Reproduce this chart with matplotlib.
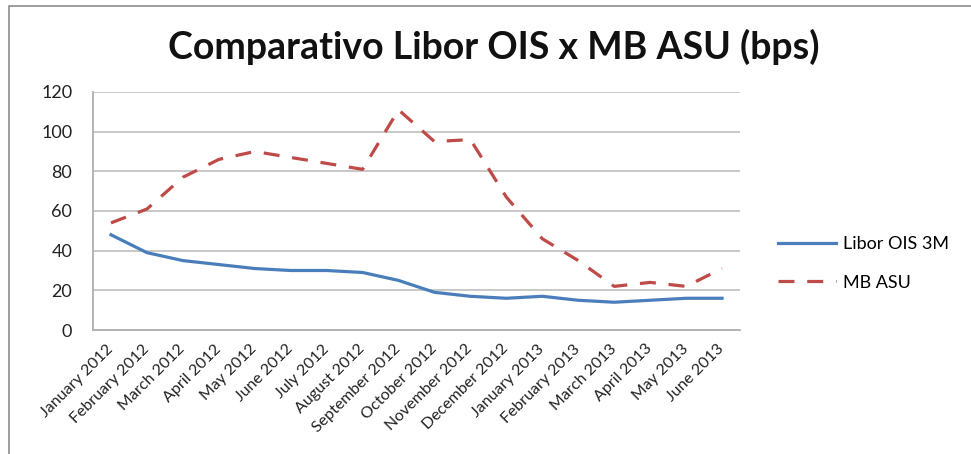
import matplotlib
matplotlib.use("Agg")
import matplotlib.pyplot as plt
from matplotlib.patches import Rectangle

# Datos del gráfico
months = ["January 2012", "February 2012", "March 2012", "April 2012", "May 2012",
          "June 2012", "July 2012", "August 2012", "September 2012", "October 2012",
          "November 2012", "December 2012", "January 2013", "February 2013",
          "March 2013", "April 2013", "May 2013", "June 2013"]
libor_ois = [48, 39, 35, 33, 31, 30, 30, 29, 25, 19, 17, 16, 17, 15, 14, 15, 16, 16]
mb_asu = [54, 61, 77, 86, 90, 87, 84, 81, 111, 95, 96, 67, 46, 35, 22, 24, 22, 31]
y_ticks = [0, 20, 40, 60, 80, 100, 120]

plt.rcParams["font.family"] = ["Lato", "DejaVu Sans"]

fig = plt.figure(figsize=(9.71, 4.54), dpi=100)
ax = fig.add_axes([0.0958, 0.2731, 0.6663, 0.5243])

# marco exterior del gráfico
fig.patches.append(Rectangle((9 / 971, -0.1), 1.2, (454 - 6) / 454 + 0.1,
                             transform=fig.transFigure, fill=False,
                             edgecolor="#8c8c8c", linewidth=1.2))

x = range(len(months))
ax.plot(x, libor_ois, color="#4a7ebb", linewidth=2.3, label="Libor OIS 3M")
ax.plot(x, mb_asu, color="#be4b48", linewidth=2.3, linestyle=(0, (5, 4)),
        label="MB ASU")

ax.set_xlim(-0.5, len(months) - 0.5)
ax.set_ylim(0, 120)
ax.set_yticks(y_ticks)
ax.set_xticks(list(x))
ax.set_xticklabels(months, rotation=45, ha="right", va="center",
                   rotation_mode="anchor", fontsize=11.5, color="#222222")
ax.tick_params(axis="x", length=0, pad=12)
ax.tick_params(axis="y", length=0, pad=15, labelsize=13, labelcolor="#222222")

ax.grid(axis="y", color="#c4c4c4", linewidth=1.3)
ax.set_axisbelow(True)
for side in ["top", "right"]:
    ax.spines[side].set_visible(False)
for side in ["left", "bottom"]:
    ax.spines[side].set_color("#b0b0b0")
    ax.spines[side].set_linewidth(1.3)

fig.text(0.509, 0.897, "Comparativo Libor OIS x MB ASU (bps)", ha="center",
         va="center", fontsize=27, fontweight="bold", color="#111111")

fig.legend(loc="center left", bbox_to_anchor=(0.785, 0.42), frameon=False,
           fontsize=13, handlelength=3.2, labelspacing=1.25, handletextpad=0.4)

fig.savefig("out.png", dpi=100)
